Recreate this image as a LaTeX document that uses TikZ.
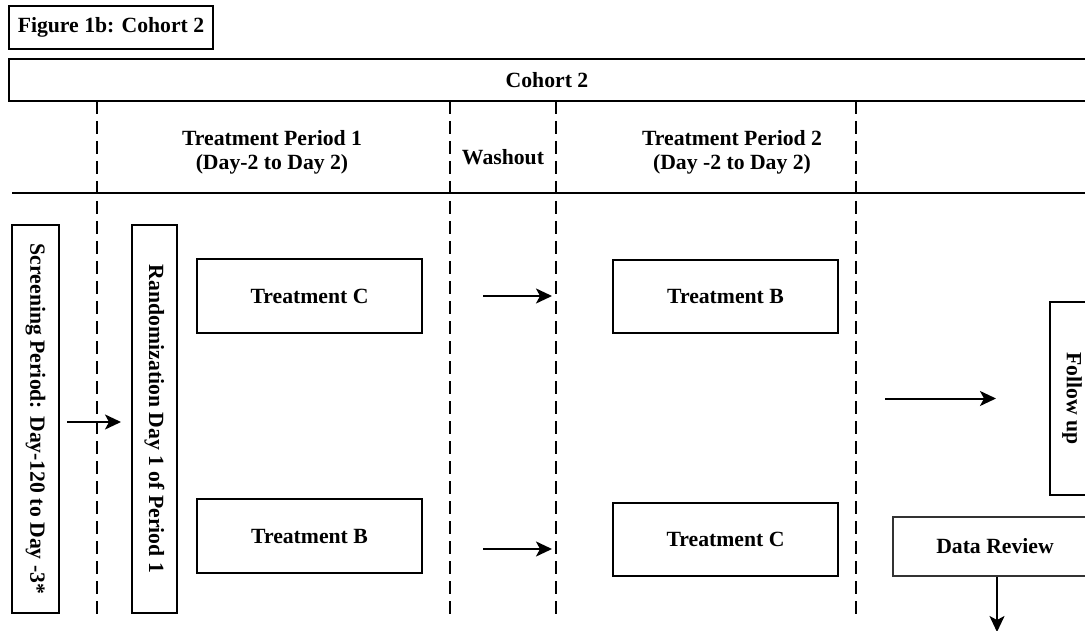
\documentclass[tikz,border=0pt]{standalone}
\usepackage{fontspec}
\setmainfont{Liberation Serif}
\usetikzlibrary{arrows.meta}

\begin{document}
\begin{tikzpicture}[x=1pt, y=-1pt, >={Stealth[length=16pt, width=15pt, inset=4pt]},
             every node/.style={font=\bfseries\fontsize{21.7}{24}\selectfont},
             box/.style={rectangle, draw, line width=2pt, inner sep=0pt},
             thinbox/.style={rectangle, draw=black!80, line width=1.3pt, inner sep=0pt},
             sep/.style={line width=2pt, dash pattern=on 13pt off 7pt},
             flow/.style={->, line width=2pt}]
\useasboundingbox (0,0) rectangle (1085,631);
\clip (0,0) rectangle (1085,631);

%% title and header band
\node[box, minimum width=204, minimum height=43] (title) at (111,27.5) {Figure 1b: Cohort 2};
\node[box, minimum width=1080, minimum height=42] (cohort) at (549,80) {};
\node at (547,80) {Cohort 2};
\coordinate (rulel) at (12,193);
\coordinate (ruler) at (1090,193);
\draw[line width=2pt] (rulel) -- (ruler);

%% column headers
\node[align=center] (hdrA) at (272,152) {Treatment Period 1\\(Day-2 to Day 2)};
\node (hdrW) at (503,157) {Washout};
\node[align=center] (hdrB) at (732,152) {Treatment Period 2\\(Day -2 to Day 2)};

%% dashed column separators
\foreach \x/\name in {97/a, 450/b, 556/c, 856/d} {
  \coordinate (top\name) at (\x,101);
  \coordinate (bot\name) at (\x,621);
  \draw[sep] (top\name) -- (bot\name);
}

%% screening and randomization (vertical text)
\node[box, minimum width=47, minimum height=388,
      label={[rotate=-90]center:Screening Period: Day-120 to Day -3*}] (screen) at (35.5,419) {};
\node[box, minimum width=45, minimum height=388,
      label={[rotate=-90]center:Randomization Day 1 of Period 1}] (rand) at (154.5,419) {};
\draw[flow, shorten <=7pt, shorten >=10pt]
  ([yshift=-3pt]screen.east) -- ([yshift=-3pt]rand.west);

%% treatment boxes
\node[box, minimum width=225, minimum height=74] (trtCa) at (309.5,296) {Treatment C};
\node[box, minimum width=225, minimum height=74] (trtBa) at (309.5,536) {Treatment B};
\node[box, minimum width=225, minimum height=73] (trtBb) at (725.5,296.5) {Treatment B};
\node[box, minimum width=225, minimum height=73] (trtCb) at (725.5,539.5) {Treatment C};

%% washout arrows
\draw[flow, shorten <=60pt, shorten >=60pt] (trtCa.east) -- (trtBb.west |- trtCa.east);
\draw[flow, shorten <=60pt, shorten >=60pt]
  ([yshift=-13pt]trtBa.east) -- ([yshift=-13pt]trtCb.west |- trtBa.east);

%% follow up and data review
\node[box, minimum width=44, minimum height=193,
      label={[rotate=-90]center:Follow up}] (follow) at (1072,398.5) {};
\coordinate (fustart) at (885,398.5);
\draw[flow, shorten >=53pt] (fustart) -- (follow.west);
\node[thinbox, minimum width=204, minimum height=59] (review) at (995,546.5) {Data Review};
\coordinate (drend) at (997,632);
\draw[flow] (drend |- review.south) -- (drend);
\end{tikzpicture}
\end{document}
